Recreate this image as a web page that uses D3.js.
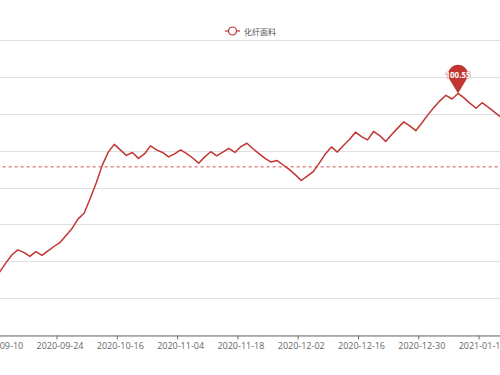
<!DOCTYPE html>
<html>
<head>
  <meta charset="utf-8">
  <title>化纤面料</title>
  <script src="https://d3js.org/d3.v7.min.js" charset="utf-8"></script>
  <style type="text/css">
    body { margin: 0; background: #fff; }
    text { font-family: "Open Sans", "Noto Sans", sans-serif; }
  </style>
</head>
<body>
<script>

var width = 500;
var height = 375;

// trading days shown on the category axis (the chart is cut at both sides)
var categories = [
  "2020-09-09","2020-09-10","2020-09-11","2020-09-14","2020-09-15","2020-09-16","2020-09-17","2020-09-18",
  "2020-09-21","2020-09-22","2020-09-23","2020-09-24","2020-09-25","2020-09-28","2020-09-29","2020-09-30",
  "2020-10-09","2020-10-12","2020-10-13","2020-10-14","2020-10-15","2020-10-16","2020-10-19","2020-10-20",
  "2020-10-22","2020-10-23","2020-10-26","2020-10-27","2020-10-29","2020-10-30","2020-11-03","2020-11-04",
  "2020-11-05","2020-11-06","2020-11-09","2020-11-10","2020-11-11","2020-11-12","2020-11-13","2020-11-16",
  "2020-11-17","2020-11-18","2020-11-19","2020-11-20","2020-11-23","2020-11-24","2020-11-25","2020-11-26",
  "2020-11-27","2020-11-30","2020-12-01","2020-12-02","2020-12-03","2020-12-04","2020-12-07","2020-12-08",
  "2020-12-09","2020-12-10","2020-12-11","2020-12-14","2020-12-15","2020-12-16","2020-12-17","2020-12-18",
  "2020-12-21","2020-12-22","2020-12-23","2020-12-24","2020-12-25","2020-12-28","2020-12-29","2020-12-30",
  "2020-12-31","2021-01-04","2021-01-05","2021-01-06","2021-01-07","2021-01-08","2021-01-11","2021-01-12",
  "2021-01-13","2021-01-14","2021-01-15","2021-01-18","2021-01-19","2021-01-20"
];

// 化纤面料 index values
var values = [
  95.45, 95.71, 95.95, 96.17, 96.31, 96.24, 96.13, 96.26, 96.16, 96.28,
  96.40, 96.51, 96.70, 96.89, 97.15, 97.30, 97.70, 98.12, 98.60, 98.96,
  99.17, 99.02, 98.87, 98.95, 98.79, 98.91, 99.13, 99.02, 98.95, 98.83,
  98.91, 99.02, 98.92, 98.80, 98.66, 98.83, 98.97, 98.86, 98.96, 99.06,
  98.95, 99.11, 99.20, 99.05, 98.92, 98.79, 98.69, 98.73, 98.61, 98.49,
  98.35, 98.19, 98.31, 98.43, 98.66, 98.91, 99.10, 98.96, 99.14, 99.30,
  99.50, 99.38, 99.29, 99.52, 99.41, 99.25, 99.44, 99.61, 99.78, 99.67,
  99.54, 99.75, 99.97, 100.17, 100.35, 100.50, 100.40, 100.55, 100.43, 100.28,
  100.15, 100.30, 100.18, 100.05, 99.92, 99.85
];

var yTicks = [94, 95, 96, 97, 98, 99, 100, 101, 102];
var avgValue = [98.56];
var seriesName = ["化纤面料"];
var color = "#c23531";

var svg = d3.select("body").append("svg")
  .attr("width", width)
  .attr("height", height)
  .style("display", "block");

svg.append("rect").attr("width", width).attr("height", height).attr("fill", "#fff");

// plot area runs past both edges of the picture
var x = d3.scaleBand().domain(categories).range([-9.33, 509.25]);
var y = d3.scaleLinear().domain([94, 102]).range([335, 40]);
var bw = x.bandwidth();
function cx(d) { return x(d) + bw / 2; }

// split lines
svg.append("g").selectAll("line")
  .data(yTicks)
  .enter().append("line")
  .attr("x1", x.range()[0]).attr("x2", x.range()[1])
  .attr("y1", function(d){ return Math.round(y(d)) + 0.5; })
  .attr("y2", function(d){ return Math.round(y(d)) + 0.5; })
  .attr("stroke", "#e0e0e0")
  .attr("stroke-width", 1);

// x axis, label every 10th day starting at 2020-09-10
var labelled = categories.filter(function(d, i){ return i >= 1 && (i - 1) % 10 == 0; });
var xAxis = d3.axisBottom(x).tickValues(labelled).tickSizeInner(4).tickSizeOuter(0).tickPadding(3);
var gx = svg.append("g").attr("transform", "translate(0," + (Math.round(y(94)) + 0.5) + ")").call(xAxis);
gx.select(".domain").attr("stroke", "#6e6e6e");
gx.selectAll(".tick line").attr("stroke", "#6e6e6e")
  .attr("x1", -bw / 2).attr("x2", -bw / 2);
gx.selectAll(".tick text")
  .attr("fill", "#666")
  .style("font-size", "9px")
  .style("font-family", "'Open Sans', 'Noto Sans', sans-serif");

// average mark line
svg.append("line")
  .attr("x1", x.range()[0]).attr("x2", x.range()[1])
  .attr("y1", y(avgValue[0])).attr("y2", y(avgValue[0]))
  .attr("stroke", color)
  .attr("stroke-opacity", 0.85)
  .attr("stroke-width", 1)
  .attr("stroke-dasharray", "3,3");

// series line
var line = d3.line()
  .x(function(d, i){ return cx(categories[i]); })
  .y(function(d){ return y(d); });

svg.append("path")
  .datum(values)
  .attr("d", line)
  .attr("fill", "none")
  .attr("stroke", color)
  .attr("stroke-width", 1.5)
  .attr("stroke-linejoin", "round");

// max mark point (pin)
var maxIdx = d3.maxIndex(values);
var px = cx(categories[maxIdx]);
var py = y(values[maxIdx]);
var r = 9.8, dd = 19;
var beta = Math.asin(r / dd);
var ot = Math.sqrt(dd * dd - r * r);
var tx = ot * Math.sin(beta), ty = -ot * Math.cos(beta);
var pin = svg.append("g").attr("transform", "translate(" + px + "," + py + ")");
pin.append("path")
  .attr("d", "M0,0L" + (-tx) + "," + ty + "A" + r + "," + r + " 0 1 1 " + tx + "," + ty + "Z")
  .attr("fill", color);
pin.append("text")
  .attr("x", 0).attr("y", -dd)
  .attr("text-anchor", "middle")
  .attr("dominant-baseline", "central")
  .attr("fill", "#fff")
  .attr("stroke", "rgba(194,53,49,0.6)")
  .attr("stroke-width", 1.2)
  .attr("paint-order", "stroke")
  .style("font-size", "8px")
  .style("font-weight", "bold")
  .text(values[maxIdx].toFixed(2));

// legend
var legend = svg.append("g").attr("transform", "translate(225,31)");
legend.append("line")
  .attr("x1", 0).attr("x2", 15).attr("y1", 0).attr("y2", 0)
  .attr("stroke", color).attr("stroke-width", 1.2);
legend.append("circle")
  .attr("cx", 7.5).attr("cy", 0).attr("r", 4)
  .attr("fill", "#fff").attr("stroke", color).attr("stroke-width", 1.2);
legend.append("text")
  .attr("x", 19).attr("y", 0)
  .attr("dominant-baseline", "central")
  .attr("fill", "#555")
  .style("font-size", "8px")
  .style("font-family", "'Noto Sans CJK SC', sans-serif")
  .text(seriesName[0]);

</script>
</body>
</html>
